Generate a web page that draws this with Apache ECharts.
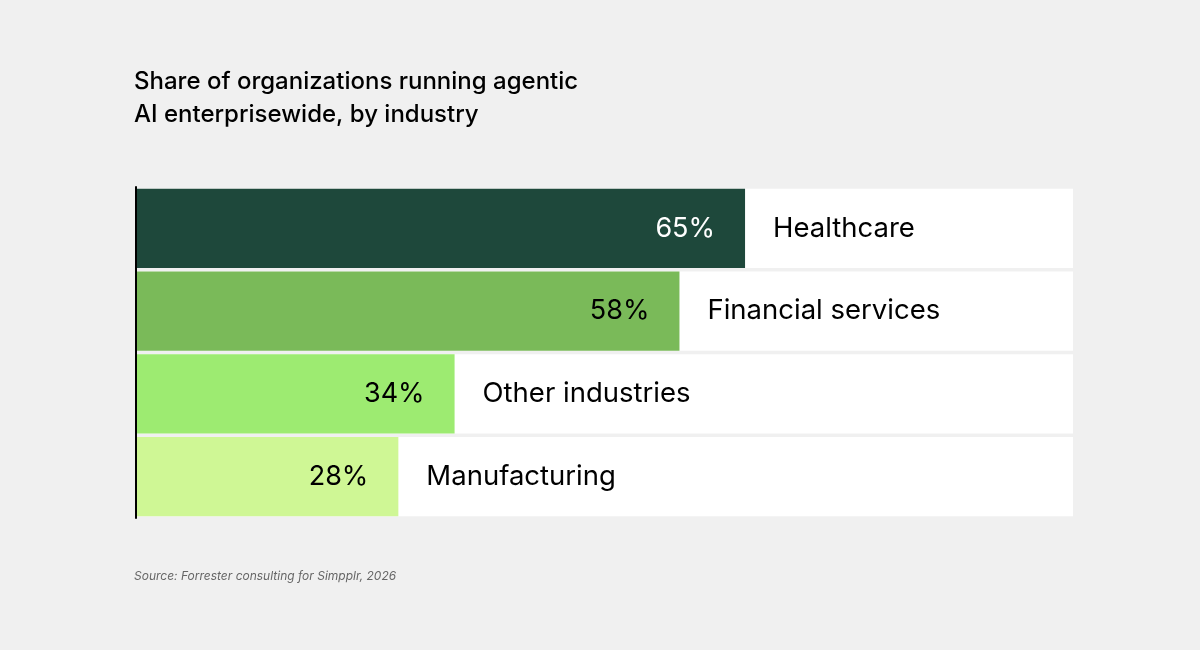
<!DOCTYPE html>
<html>
<head>
<meta charset="utf-8">
<style>
  html, body { margin: 0; padding: 0; background: #f0f0f0; }
  #chart { width: 1200px; height: 650px; }
</style>
<script src="https://cdn.jsdelivr.net/npm/echarts@6/dist/echarts.min.js"></script>
</head>
<body>
<div id="chart"></div>
<script>
  // data
  const industries = ['Healthcare', 'Financial services', 'Other industries', 'Manufacturing'];
  const shares = [65, 58, 34, 28];
  const barColors = ['#1e483b', '#7aba59', '#9deb71', '#cff795'];
  const valueColors = ['#ffffff', '#000000', '#000000', '#000000'];

  const font = 'Inter, "Noto Sans", sans-serif';

  const chart = echarts.init(document.getElementById('chart'));

  const option = {
    backgroundColor: '#f0f0f0',
    animation: false,
    title: [
      {
        text: 'Share of organizations running agentic\nAI enterprisewide, by industry',
        left: 134,
        top: 65,
        padding: 0,
        textStyle: { fontFamily: font, fontSize: 24, fontWeight: 500, color: '#000', lineHeight: 33 }
      },
      {
        text: 'Source: Forrester consulting for Simpplr, 2026',
        left: 134,
        top: 570,
        padding: 0,
        textStyle: { fontFamily: font, fontSize: 12, fontWeight: 400, fontStyle: 'italic', color: '#666' }
      }
    ],
    grid: { left: 136, right: 127, top: 187, bottom: 132 },
    xAxis: { type: 'value', min: 0, max: 100, show: false },
    yAxis: {
      type: 'category',
      data: industries,
      inverse: true,
      z: 10,
      axisLine: { show: true, lineStyle: { color: '#000', width: 2 } },
      axisTick: { show: false },
      axisLabel: { show: false }
    },
    series: [
      {
        type: 'bar',
        data: shares.map((v, i) => ({
          value: v,
          itemStyle: { color: barColors[i] },
          label: { color: valueColors[i] }
        })),
        barCategoryGap: '4%',
        showBackground: true,
        backgroundStyle: { color: '#ffffff' },
        label: {
          show: true,
          position: 'insideRight',
          distance: 30,
          formatter: p => p.value + '%',
          fontFamily: font,
          fontSize: 27
        }
      },
      {
        type: 'bar',
        data: shares,
        barGap: '-100%',
        barCategoryGap: '4%',
        itemStyle: { color: 'transparent' },
        label: {
          show: true,
          position: 'right',
          distance: 28,
          formatter: p => p.name,
          fontFamily: font,
          fontSize: 27.5,
          color: '#000'
        }
      }
    ]
  };

  chart.setOption(option);
</script>
</body>
</html>
